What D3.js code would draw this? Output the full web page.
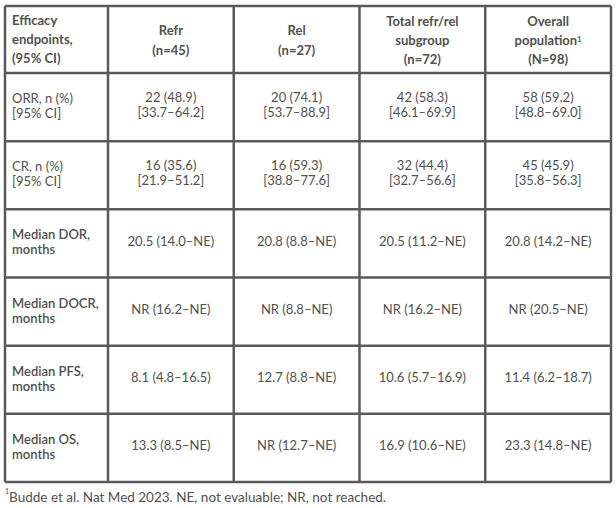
<!DOCTYPE html>
<html>

<head>
    <meta charset="UTF-8">
    <script src="https://d3js.org/d3.v7.min.js"></script>
    <style>
        body { margin: 0; background: #fff; }
        svg { display: block; font-family: Lato, "Open Sans", sans-serif; }
    </style>
</head>

<body>
    <svg></svg>

    <script>
        let width = 616, height = 508;

        // table content
        const headerLabel = ["Efficacy", "endpoints,", "(95% CI)"];
        const groups = ["Refr", "Rel", "Total", "Overall"];
        const groupHeaders = [
            ["Refr", "(n=45)"],
            ["Rel", "(n=27)"],
            ["Total refr/rel", "subgroup", "(n=72)"],
            ["Overall", "population¹", "(N=98)"]
        ];
        const rowLabels = [
            ["ORR, n (%)", "[95% CI]"],
            ["CR, n (%)", "[95% CI]"],
            ["Median DOR,", "months"],
            ["Median DOCR,", "months"],
            ["Median PFS,", "months"],
            ["Median OS,", "months"]
        ];
        const refr = ["22 (48.9)|[33.7–64.2]", "16 (35.6)|[21.9–51.2]", "20.5 (14.0–NE)", "NR (16.2–NE)", "8.1 (4.8–16.5)", "13.3 (8.5–NE)"];
        const rel = ["20 (74.1)|[53.7–88.9]", "16 (59.3)|[38.8–77.6]", "20.8 (8.8–NE)", "NR (8.8–NE)", "12.7 (8.8–NE)", "NR (12.7–NE)"];
        const total = ["42 (58.3)|[46.1–69.9]", "32 (44.4)|[32.7–56.6]", "20.5 (11.2–NE)", "NR (16.2–NE)", "10.6 (5.7–16.9)", "16.9 (10.6–NE)"];
        const overall = ["58 (59.2)|[48.8–69.0]", "45 (45.9)|[35.8–56.3]", "20.8 (14.2–NE)", "NR (20.5–NE)", "11.4 (6.2–18.7)", "23.3 (14.8–NE)"];
        const footnote = "Budde et al. Nat Med 2023. NE, not evaluable; NR, not reached.";

        const columns = [refr, rel, total, overall];

        let svg = d3.select("svg")
            .attr("width", width)
            .attr("height", height);

        let left = 5, right = 611, tableTop = 6, headBottom = 73, bottom = 482, labelRight = 108;

        let x = d3.scaleBand().domain(groups).range([labelRight, right]);
        let y = d3.scaleBand().domain(d3.range(rowLabels.length)).range([headBottom, bottom]);

        let lineGap = 15, headGap = 19;
        let textColor = "#505050";

        // multi-line text centred on cy
        function block(g, lines, cx, cy, gap, anchor, weight, size) {
            let t = g.append("text")
                .attr("text-anchor", anchor)
                .attr("fill", textColor)
                .attr("font-weight", weight)
                .attr("font-size", size);
            lines.forEach((l, i) => {
                let sup = l.endsWith("¹");
                t.append("tspan")
                    .attr("x", cx)
                    .attr("y", cy + (i - (lines.length - 1) / 2) * gap)
                    .attr("dy", "0.35em")
                    .text(sup ? l.slice(0, -1) : l);
                if (sup) {
                    t.append("tspan").attr("dy", "-0.4em").attr("font-size", size * 0.6).text("1");
                }
            });
        }

        let content = svg.append("g");

        // header
        block(content, headerLabel, 12, (tableTop + headBottom) / 2, headGap, "start", "bold", 13);
        groups.forEach((gname, i) => {
            block(content, groupHeaders[i], x(gname) + x.bandwidth() / 2, (tableTop + headBottom) / 2 + 1,
                groupHeaders[i].length > 2 ? headGap : 20, "middle", "bold", 13);
        });

        // row labels
        rowLabels.forEach((lab, r) => {
            block(content, lab, 12, y(r) + y.bandwidth() / 2 - 1, lineGap, "start", r < 2 ? "normal" : "600", 13);
        });

        // cells
        columns.forEach((col, c) => {
            col.forEach((v, r) => {
                block(content, v.split("|"), x(groups[c]) + x.bandwidth() / 2, y(r) + y.bandwidth() / 2 - 2,
                    lineGap, "middle", "normal", 13);
            });
        });

        // grid lines
        let grid = svg.append("g")
            .attr("stroke", "#5a5a5a")
            .attr("stroke-width", 2.5)
            .attr("fill", "none");

        let hLines = [tableTop, headBottom].concat(d3.range(1, rowLabels.length).map(r => y(r)), [bottom]);
        grid.selectAll(".h").data(hLines).join("line")
            .attr("class", "h")
            .attr("x1", left).attr("x2", right)
            .attr("y1", d => d).attr("y2", d => d);

        let vLines = [left, labelRight].concat(groups.slice(1).map(g => x(g)), [right]);
        grid.selectAll(".v").data(vLines).join("line")
            .attr("class", "v")
            .attr("x1", d => d).attr("x2", d => d)
            .attr("y1", tableTop).attr("y2", bottom);

        // footnote
        let fn = svg.append("text")
            .attr("x", left)
            .attr("y", 498)
            .attr("fill", textColor)
            .attr("font-size", 13.5);
        fn.append("tspan").attr("font-size", 7).attr("dy", "-0.6em").text("1");
        fn.append("tspan").attr("dy", "0.6em").text(footnote);
    </script>

</body>

</html>
